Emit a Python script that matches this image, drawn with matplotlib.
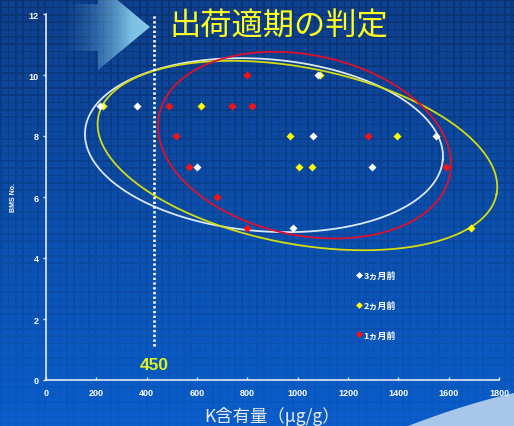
import matplotlib
matplotlib.use("Agg")
import matplotlib.pyplot as plt
import numpy as np
from matplotlib.lines import Line2D
from matplotlib.patches import Polygon

JP = ["Noto Sans CJK JP", "DejaVu Sans"]
NARROW = ["Liberation Sans Narrow", "Liberation Sans", "DejaVu Sans"]

# K content (ug/g) and BMS number for each sampling time
x_3m = [215, 360, 1080, 1060, 600, 980, 1295, 1550]
y_3m = [9, 9, 10, 8, 7, 5, 7, 8]
x_2m = [225, 615, 1090, 970, 1005, 1055, 1395, 1690]
y_2m = [9, 9, 10, 8, 7, 7, 8, 5]
x_1m = [490, 740, 820, 800, 515, 570, 680, 800, 1280, 1590]
y_1m = [9, 9, 9, 10, 8, 7, 6, 5, 8, 7]
labels = ["3ヵ月前", "2ヵ月前", "1ヵ月前"]

# group outlines: centre x, centre y, semi-axes (x units), tilt (deg, clockwise)
rings = {
    "white": (866, 7.70, 713, 342, 4.6),
    "yellow": (999, 7.36, 806, 350, 11.0),
    "red": (1027, 7.70, 590, 358, 11.9),
}
ring_colors = {"white": "#dce8f8", "yellow": "#d4dc10", "red": "#e0102c"}

threshold = 430
threshold_label = "450"

W, H = 514, 427
fig = plt.figure(figsize=(W / 100, H / 100), dpi=100)

# background: blue gradient with a fine grid
bg = fig.add_axes([0, 0, 1, 1])
bg.axis("off")
yy, xx = np.mgrid[0:H, 0:W]
t = yy / H
top = np.array([14, 64, 142]) / 255
bot = np.array([10, 94, 204]) / 255
img = top[None, None, :] * (1 - t[..., None]) + bot[None, None, :] * t[..., None]
grid = ((xx % 7.3) < 1.6) | ((yy % 7.3) < 1.6)
img[grid] *= (0.8 + 0.16 * t[grid])[:, None]
bg.imshow(img, extent=[0, W, H, 0], aspect="auto", interpolation="bilinear")

# fading arrow in the top-left corner
arrow = Polygon([(62, 5), (98, 5), (98, -15), (150, 28), (98, 71), (98, 52), (62, 52)],
                closed=True, transform=bg.transData, facecolor="none", edgecolor="none")
bg.add_patch(arrow)
gx = np.linspace(0, 1, 200)
grad = np.zeros((2, 200, 4))
grad[..., 0] = 0.42 + 0.14 * gx
grad[..., 1] = 0.68 + 0.16 * gx
grad[..., 2] = 0.86 + 0.08 * gx
grad[..., 3] = np.clip(gx ** 1.6 * 1.3, 0, 0.92)
im = bg.imshow(grad, extent=[58, 150, 75, -20], aspect="auto", interpolation="bilinear")
im.set_clip_path(arrow)

# pale swoosh in the bottom-right corner
s = np.linspace(0, 1, 50)
cx = (1 - s) ** 2 * 408 + 2 * (1 - s) * s * 465 + s ** 2 * 514
cy = (1 - s) ** 2 * 427 + 2 * (1 - s) * s * 405 + s ** 2 * 394
bg.add_patch(Polygon(np.r_[np.c_[cx, cy], [[514, 427]]], closed=True,
                     facecolor="#a8c6ea", edgecolor="none"))
bg.set_xlim(0, W)
bg.set_ylim(H, 0)

ax = fig.add_axes([46 / W, 46 / H, 453 / W, 366 / H])
ax.patch.set_alpha(0)
ax.set_xlim(0, 1800)
ax.set_ylim(0, 12)
ax.set_xticks(np.arange(0, 1801, 200))
ax.set_yticks(np.arange(0, 13, 2))
for side in ("top", "right"):
    ax.spines[side].set_visible(False)
for side in ("left", "bottom"):
    ax.spines[side].set_color("#e4ecf4")
    ax.spines[side].set_linewidth(1.2)
ax.tick_params(axis="both", colors="#e4ecf4", length=2.5, width=1)
ax.tick_params(axis="x", direction="in", pad=6)
ax.tick_params(axis="y", direction="out", pad=3)
for lbl in ax.get_xticklabels() + ax.get_yticklabels():
    lbl.set_family(NARROW)
    lbl.set_fontsize(6.5)
    lbl.set_fontweight("bold")
    lbl.set_color("white")

ax.set_xlabel("K含有量（μg/g）", family=JP, fontsize=12.5, color="#e8ecf0", labelpad=6)
ax.set_ylabel("BMS No.", family=NARROW, fontsize=5, fontweight="bold",
              color="white", labelpad=8)


def tilted_ring(cx, cy, rx, ry, tilt, color):
    # build the ellipse in display space so the tilt reads as on screen
    px = ax.transData.transform([(0, 0), (1, 0)])
    sx = px[1, 0] - px[0, 0]
    c = ax.transData.transform((cx, cy))
    a, b, phi = rx * sx, ry * sx, np.radians(tilt)
    tt = np.linspace(0, 2 * np.pi, 400)
    X = c[0] + a * np.cos(tt) * np.cos(phi) - b * np.sin(tt) * np.sin(phi)
    Y = c[1] - a * np.cos(tt) * np.sin(phi) - b * np.sin(tt) * np.cos(phi)
    d = ax.transData.inverted().transform(np.c_[X, Y])
    ax.plot(d[:, 0], d[:, 1], color=color, lw=1.3, zorder=2)


for key, (cx0, cy0, rx, ry, tilt) in rings.items():
    tilted_ring(cx0, cy0, rx, ry, tilt, ring_colors[key])

ax.plot(x_1m, y_1m, "D", color="#ff1010", ms=4.2, mec="none", zorder=3)
ax.plot(x_2m, y_2m, "D", color="#ffff00", ms=4.2, mec="none", zorder=4)
ax.plot(x_3m, y_3m, "D", color="white", ms=4.2, mec="none", zorder=5)

# threshold line
ax.plot([threshold, threshold], [1.1, 12], color="white", lw=1.9,
        linestyle=(0, (0.9, 0.9)), zorder=2)
ax.text(threshold, 0.25, threshold_label, family=NARROW, fontsize=12.5,
        fontweight="bold", color="#e0f020", ha="center", va="bottom")

handles = [Line2D([], [], ls="none", marker="D", ms=3.5, mec="none", color=c)
           for c in ("white", "#ffff00", "#ff1010")]
leg = ax.legend(handles, labels, loc="upper left", bbox_to_anchor=(0.675, 0.31),
                frameon=False, handlelength=0.5, handletextpad=0.3,
                labelspacing=2.3, borderpad=0,
                prop={"family": JP, "size": 6.5, "weight": "bold"})
for txt in leg.get_texts():
    txt.set_color("white")

fig.text(169 / W, 1 - 26 / H, "出荷適期の判定", family=JP, fontsize=22.5,
         color="#ffff20", ha="left", va="center")

fig.savefig("out.png", dpi=100)
